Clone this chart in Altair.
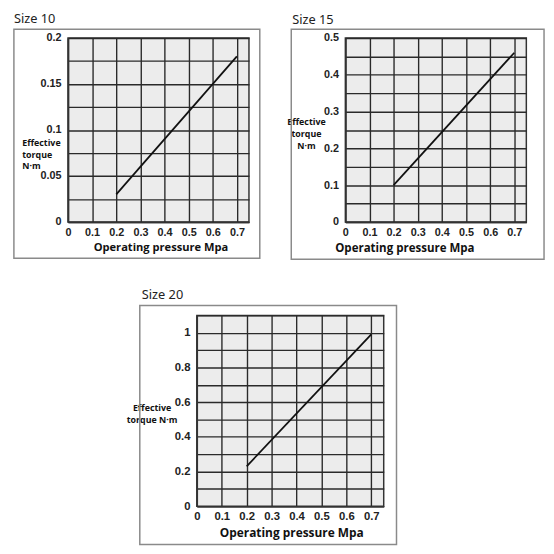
import altair as alt
import pandas as pd

# ---- data ----
pressure = [0.2, 0.7]
torque_10 = [0.03, 0.18]
torque_15 = [0.10, 0.46]
torque_20 = [0.23, 0.99]

x_ticks = [0, 0.1, 0.2, 0.3, 0.4, 0.5, 0.6, 0.7]
y_grid_10 = [0, 0.025, 0.05, 0.075, 0.1, 0.125, 0.15, 0.175, 0.2]
y_grid_15 = [0, 0.05, 0.1, 0.15, 0.2, 0.25, 0.3, 0.35, 0.4, 0.45, 0.5]
y_grid_20 = [0, 0.1, 0.2, 0.3, 0.4, 0.5, 0.6, 0.7, 0.8, 0.9, 1.0, 1.1]

panel_titles = ["Size 10", "Size 15", "Size 20"]
x_title = "Operating pressure Mpa"
y_title_a = ["Effective", "torque", "N·m"]
y_title_b = ["Effective", "torque N·m"]

PANEL_VIEW = alt.ViewBackground(fill="#ececec", stroke="#333333", strokeWidth=1.5)


def panel(torque, ymax, ygrid, mult, title, ytitle, cfg):
    w, h = cfg["w"], cfg["h"]
    df = pd.DataFrame({"p": pressure, "t": torque})
    one = alt.Data(values=[{"label": title}])

    line = alt.Chart(df).mark_line(color="#111111", strokeWidth=1.8).encode(
        x=alt.X(
            "p:Q",
            scale=alt.Scale(domain=[0, 0.75], nice=False, zero=False),
            axis=alt.Axis(
                values=x_ticks, format="~g", grid=True, ticks=False, tickSize=0,
                labelPadding=5, labelFontSize=cfg["lfs"],
                title=x_title, titleX=cfg["xtx"], titleY=cfg["xty"],
                titleAlign="center", titleBaseline="middle",
                titleFontSize=cfg["xtfs"],
            ),
        ),
        y=alt.Y(
            "t:Q",
            scale=alt.Scale(domain=[0, ymax], nice=False),
            axis=alt.Axis(
                values=ygrid, format="~g", grid=True, ticks=False, tickSize=0,
                labelExpr=f"round(datum.value*{mult}) % 2 == 0 ? datum.label : ''",
                labelPadding=7, labelFontSize=cfg["lfs"],
                title=ytitle, titleAngle=0, titleX=cfg["ytx"], titleY=cfg["yty"],
                titleAlign=cfg["yta"], titleBaseline="middle", titleLineHeight=12,
                titleFontSize=9,
            ),
        ),
    )

    bx1, bx2, by1, by2 = cfg["box"]
    box = alt.Chart(one).mark_rect(fillOpacity=0, stroke="#8a8a8a", strokeWidth=1.5).encode(
        x=alt.value(bx1), x2=alt.value(w + bx2), y=alt.value(by1), y2=alt.value(h + by2)
    )
    fx1, fx2, fy1, fy2 = cfg["frame"]
    frame = alt.Chart(one).mark_rect(opacity=0).encode(
        x=alt.value(fx1), x2=alt.value(w + fx2), y=alt.value(fy1), y2=alt.value(h + fy2)
    )
    tx, ty = cfg["title"]
    ttl = alt.Chart(one).mark_text(
        align="left", baseline="middle", font="Noto Sans", fontSize=13, color="#222222"
    ).encode(x=alt.value(tx), y=alt.value(ty), text="label:N")

    return alt.layer(frame, box, line, ttl).properties(width=w, height=h, view=PANEL_VIEW)


cfg1 = dict(w=184, h=187, lfs=11, xtx=94, xty=26, xtfs=11.3, ytx=-47, yty=106, yta="left",
            box=(-55, 11, -9, 37), frame=(-60, 20, -25, 46), title=(-55, -19))
cfg2 = dict(w=184, h=187, lfs=11, xtx=60, xty=26, xtfs=11.7, ytx=-40, yty=85, yta="center",
            box=(-55, 18, -9, 38), frame=(-68, 19, -25, 46), title=(-54, -18))
cfg3 = dict(w=190, h=194, lfs=11.5, xtx=96, xty=27, xtfs=12.1, ytx=-46, yty=94, yta="center",
            box=(-58, 13, -10, 39), frame=(-80, 15, -36, 40), title=(-56, -21))

p1 = panel(torque_10, 0.2, y_grid_10, 40, panel_titles[0], y_title_a, cfg1)
p2 = panel(torque_15, 0.5, y_grid_15, 20, panel_titles[1], y_title_a, cfg2)
p3 = panel(torque_20, 1.1, y_grid_20, 10, panel_titles[2], y_title_b, cfg3)

# invisible spacer that pushes the third panel to the right
spacer = alt.Chart(alt.Data(values=[{"label": ""}])).mark_rect(opacity=0).encode(
    x=alt.value(0), x2=alt.value(50), y=alt.value(0), y2=alt.value(10)
).properties(width=50, height=10,
             view=alt.ViewBackground(fillOpacity=0, strokeOpacity=0, strokeWidth=0))

row1 = alt.hconcat(p1, p2, spacing=8)
row2 = alt.hconcat(spacer, p3, spacing=0)
chart = alt.vconcat(row1, row2, spacing=11).properties(padding=0).configure_axis(
    labelFont="Liberation Sans", labelFontWeight="bold", labelColor="#222222",
    labelOverlap=False, labelFlush=False,
    domainColor="#333333", domainWidth=1.5,
    gridColor="#2a2a2a", gridWidth=1.4,
    titleFont="Open Sans", titleFontWeight="bold", titleColor="#111111",
)

chart.save("out.html", embed_options={"renderer": "svg", "actions": False})
